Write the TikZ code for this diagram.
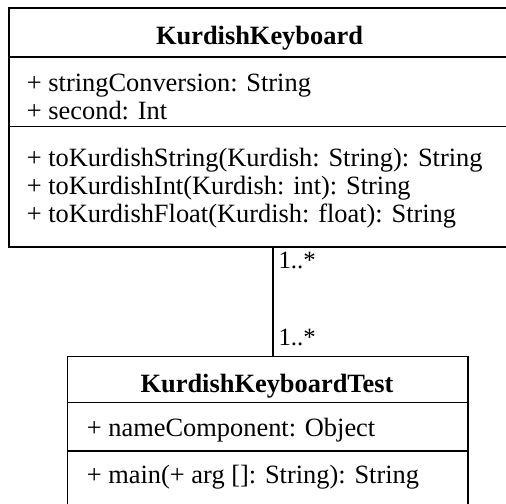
\documentclass[tikz,border=0pt]{standalone}
\usepackage{fontspec}
\setmainfont{Liberation Serif}
\begin{document}
\begin{tikzpicture}[x=1bp,y=-1bp,
  box/.style={draw, line width=1.6bp, inner sep=0pt, anchor=north west},
  sep/.style={line width=1.6bp},
  conn/.style={line width=1.6bp},
  txt/.style={anchor=base west, inner sep=0pt, font=\fontsize{26.5}{26.5}\selectfont},
  ttl/.style={anchor=base, inner sep=0pt, font=\fontsize{26.5}{26.5}\selectfont\bfseries},
  mult/.style={anchor=base west, inner sep=0pt, font=\fontsize{25}{25}\selectfont}]
\useasboundingbox (0,0) rectangle (506,504);
\clip (0,0) rectangle (506,504);
% top class
\node[box, minimum width=503bp, minimum height=238.7bp] (kk) at (8.3,7.3) {};
\draw[sep] (kk.west |- 0,57.3) -- (kk.east |- 0,57.3);
\draw[sep] (kk.west |- 0,126.7) -- (kk.east |- 0,126.7);
\node[ttl] (kkname) at (259.5,44.5) {KurdishKeyboard};
\node[txt] (a1) at (26.7,92) {+ stringConversion: String};
\node[txt] (a2) at (26.7,120) {+ second: Int};
\node[txt] (m1) at (26.7,167) {+ toKurdishString(Kurdish: String): String};
\node[txt] (m2) at (26.7,195) {+ toKurdishInt(Kurdish: int): String};
\node[txt] (m3) at (26.7,222) {+ toKurdishFloat(Kurdish: float): String};
% bottom class
\node[box, minimum width=400.6bp, minimum height=170bp] (kkt) at (66.7,355.7) {};
\draw[sep] (kkt.west |- 0,402.3) -- (kkt.east |- 0,402.3);
\draw[sep] (kkt.west |- 0,450.7) -- (kkt.east |- 0,450.7);
\node[ttl] (kktname) at (267,392) {KurdishKeyboardTest};
\node[txt] (b1) at (86.7,436.5) {+ nameComponent: Object};
\node[txt] (b2) at (86.7,483.5) {+ main(+ arg []: String): String};
% association
\coordinate (ctop) at (272.7,246);
\draw[conn] (kk.south -| ctop) -- (kkt.north -| ctop);
\node[mult] (m_top) at (278.3,268) {1..*};
\node[mult] (m_bot) at (278.3,345) {1..*};
\end{tikzpicture}
\end{document}
